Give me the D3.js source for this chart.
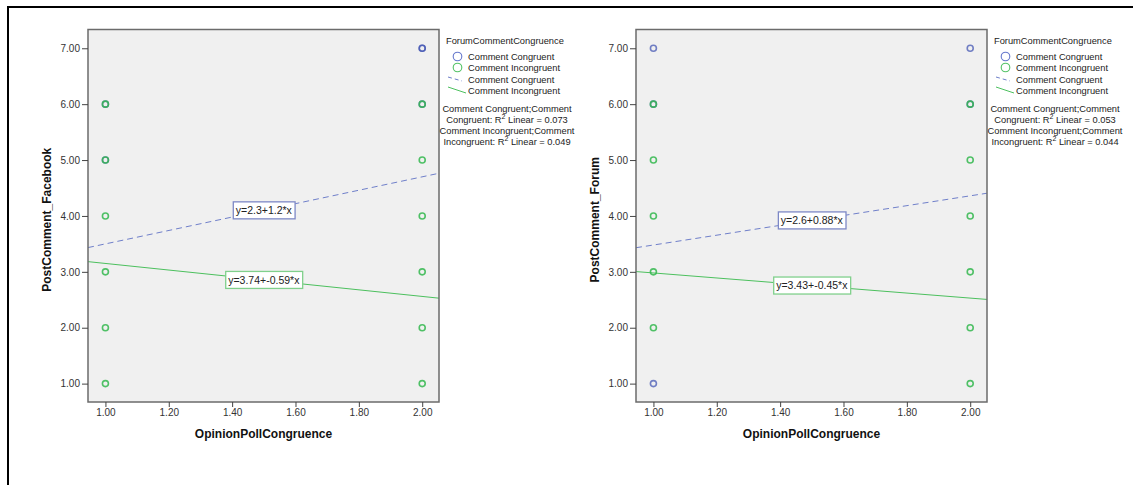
<!DOCTYPE html>
<html>
<head>
<meta charset="utf-8">
<script src="https://cdn.jsdelivr.net/npm/d3@7"></script>
<style>
  body { margin: 0; background: #fff; }
  text { font-family: "Liberation Sans", Arial, sans-serif; }
</style>
</head>
<body>
<div id="chart"></div>
<script>
// tick labels
var xTicks = [1.0, 1.2, 1.4, 1.6, 1.8, 2.0];
var yTicks = [1, 2, 3, 4, 5, 6, 7];
var groupNames = ["Comment Congruent", "Comment Incongruent"];

// PostComment_Facebook points [x, y]
var facebookCongruent = [[1, 6], [1, 5], [2, 7], [2, 7], [2, 6]];
var facebookIncongruent = [[1, 6], [1, 5], [1, 4], [1, 3], [1, 2], [1, 1],
                           [2, 6], [2, 5], [2, 4], [2, 3], [2, 2], [2, 1]];
var facebookFits = [[2.3, 1.2], [3.74, -0.59]];   // intercept, slope
var facebookR2 = [0.073, 0.049];

// PostComment_Forum points [x, y]
var forumCongruent = [[1, 7], [1, 6], [1, 1], [2, 7], [2, 6]];
var forumIncongruent = [[1, 6], [1, 5], [1, 4], [1, 3], [1, 2],
                        [2, 6], [2, 5], [2, 4], [2, 3], [2, 2], [2, 1]];
var forumFits = [[2.6, 0.88], [3.43, -0.45]];
var forumR2 = [0.053, 0.044];

var W = 1133, H = 485;
var svg = d3.select("#chart").append("svg")
  .attr("width", W).attr("height", H);

// outer frame
svg.append("rect")
  .attr("x", 8).attr("y", 7).attr("width", 1140).attr("height", 500)
  .attr("fill", "none").attr("stroke", "#000").attr("stroke-width", 2);

var blue = "#4558b4", green = "#32b74e";
var lineBlue = "#6f7fc9", lineGreen = "#4cc05e";

var panels = [
  {off: 0, yTitle: "PostComment_Facebook", cong: facebookCongruent, incong: facebookIncongruent, fits: facebookFits, r2: facebookR2},
  {off: 548, yTitle: "PostComment_Forum", cong: forumCongruent, incong: forumIncongruent, fits: forumFits, r2: forumR2}
];

panels.forEach(function(p) {
  var g = svg.append("g");
  var left = 88 + p.off, right = 439 + p.off, top = 29.5, bottom = 402;

  var x = d3.scaleLinear().domain([0.945, 2.053]).range([left, right]);
  var y = d3.scaleLinear().domain([0.671, 7.336]).range([bottom, top]);

  // plot background
  g.append("rect")
    .attr("x", left).attr("y", top)
    .attr("width", right - left).attr("height", bottom - top)
    .attr("fill", "#f0f0f0");

  var clip = "clip" + p.off;
  g.append("clipPath").attr("id", clip)
    .append("rect").attr("x", left).attr("y", top)
    .attr("width", right - left).attr("height", bottom - top);

  // regression lines
  var xd = x.domain();
  p.fits.forEach(function(f, i) {
    g.append("line")
      .attr("clip-path", "url(#" + clip + ")")
      .attr("x1", x(xd[0])).attr("y1", y(f[0] + f[1] * xd[0]))
      .attr("x2", x(xd[1])).attr("y2", y(f[0] + f[1] * xd[1]))
      .attr("stroke", i == 0 ? lineBlue : lineGreen)
      .attr("stroke-width", 1)
      .attr("stroke-dasharray", i == 0 ? "6,4" : null);
  });

  // points
  g.selectAll(".pc").data(p.cong).enter().append("circle")
    .attr("cx", function(d) { return x(d[0]); })
    .attr("cy", function(d) { return y(d[1]); })
    .attr("r", 3).attr("fill", "none")
    .attr("stroke", blue).attr("stroke-width", 1.6).attr("stroke-opacity", 0.75);
  g.selectAll(".pi").data(p.incong).enter().append("circle")
    .attr("cx", function(d) { return x(d[0]); })
    .attr("cy", function(d) { return y(d[1]); })
    .attr("r", 3).attr("fill", "none")
    .attr("stroke", green).attr("stroke-width", 1.6).attr("stroke-opacity", 0.85);

  // equation labels on the lines
  p.fits.forEach(function(f, i) {
    var xm = 1.5;
    var txt = "y=" + f[0] + "+" + f[1] + "*x";
    var lg = g.append("g");
    var box = lg.append("rect");
    var t = lg.append("text")
      .attr("x", x(xm)).attr("y", y(f[0] + f[1] * xm) + 3.8)
      .attr("text-anchor", "middle")
      .style("font-size", "10.5px").attr("fill", "#222")
      .text(txt);
    var bb = t.node().getBBox();
    box.attr("x", bb.x - 2.5).attr("y", y(f[0] + f[1] * xm) - 8.5)
      .attr("width", bb.width + 5).attr("height", 17)
      .attr("fill", "#fff")
      .attr("stroke", i == 0 ? "#7d88c6" : "#80d08c").attr("stroke-width", 1.3);
  });

  // plot border
  g.append("rect")
    .attr("x", left).attr("y", top)
    .attr("width", right - left).attr("height", bottom - top)
    .attr("fill", "none").attr("stroke", "#6b6b6b").attr("stroke-width", 1.5);

  // axes
  var ya = g.append("g").attr("transform", "translate(" + left + ",0)")
    .call(d3.axisLeft(y).tickValues(yTicks).tickFormat(d3.format(".2f")).tickSizeInner(6).tickSizeOuter(0).tickPadding(2));
  ya.select(".domain").remove();
  var xa = g.append("g").attr("transform", "translate(0," + bottom + ")")
    .call(d3.axisBottom(x).tickValues(xTicks).tickFormat(d3.format(".2f")).tickSizeInner(5).tickSizeOuter(0).tickPadding(2));
  xa.select(".domain").remove();
  [ya, xa].forEach(function(a) {
    a.selectAll("line").attr("stroke", "#444");
    a.selectAll("text").style("font-size", "10px").style("font-family", "Liberation Sans, Arial").attr("fill", "#333");
  });

  // axis titles
  g.append("text")
    .attr("x", (left + right) / 2).attr("y", 438)
    .attr("text-anchor", "middle")
    .style("font-size", "12px").style("font-weight", "bold").attr("fill", "#111")
    .text("OpinionPollCongruence");
  g.append("text")
    .attr("transform", "translate(" + (51 + p.off) + "," + ((top + bottom) / 2 + 4) + ") rotate(-90)")
    .attr("text-anchor", "middle")
    .style("font-size", "12px").style("font-weight", "bold").attr("fill", "#111")
    .text(p.yTitle);

  // legend
  var lx = right + 7;
  var lgd = g.append("g").style("font-size", "9.3px").attr("fill", "#222");
  lgd.append("text").attr("x", lx).attr("y", 44).text("ForumCommentCongruence");
  lgd.append("circle").attr("cx", lx + 11.5).attr("cy", 56.5).attr("r", 4.3)
    .attr("fill", "none").attr("stroke", "#6577cc").attr("stroke-width", 1.1);
  lgd.append("circle").attr("cx", lx + 11.5).attr("cy", 67.5).attr("r", 4.3)
    .attr("fill", "none").attr("stroke", "#52c265").attr("stroke-width", 1.1);
  lgd.append("line").attr("x1", lx + 2).attr("y1", 77).attr("x2", lx + 16).attr("y2", 81)
    .attr("stroke", lineBlue).attr("stroke-dasharray", "4,3");
  lgd.append("line").attr("x1", lx + 2).attr("y1", 87).attr("x2", lx + 20).attr("y2", 93)
    .attr("stroke", lineGreen);
  var rows = [groupNames[0], groupNames[1], groupNames[0], groupNames[1]];
  rows.forEach(function(r, i) {
    lgd.append("text").attr("x", lx + 22).attr("y", 60 + i * 11.3).text(r);
  });

  // R2 notes
  var cx = lx + 61;
  p.r2.forEach(function(v, i) {
    var n = groupNames[i];
    var w = n.replace("Comment ", "");
    lgd.append("text").attr("x", cx).attr("y", 111.5 + i * 22)
      .attr("text-anchor", "middle").text(n + ";Comment");
    var t2 = lgd.append("text").attr("x", cx).attr("y", 122.5 + i * 22)
      .attr("text-anchor", "middle");
    t2.append("tspan").text(w + ": R");
    t2.append("tspan").attr("dy", -4).style("font-size", "7px").text("2");
    t2.append("tspan").attr("dy", 4).text(" Linear = " + d3.format(".3f")(v));
  });
});
</script>
</body>
</html>
